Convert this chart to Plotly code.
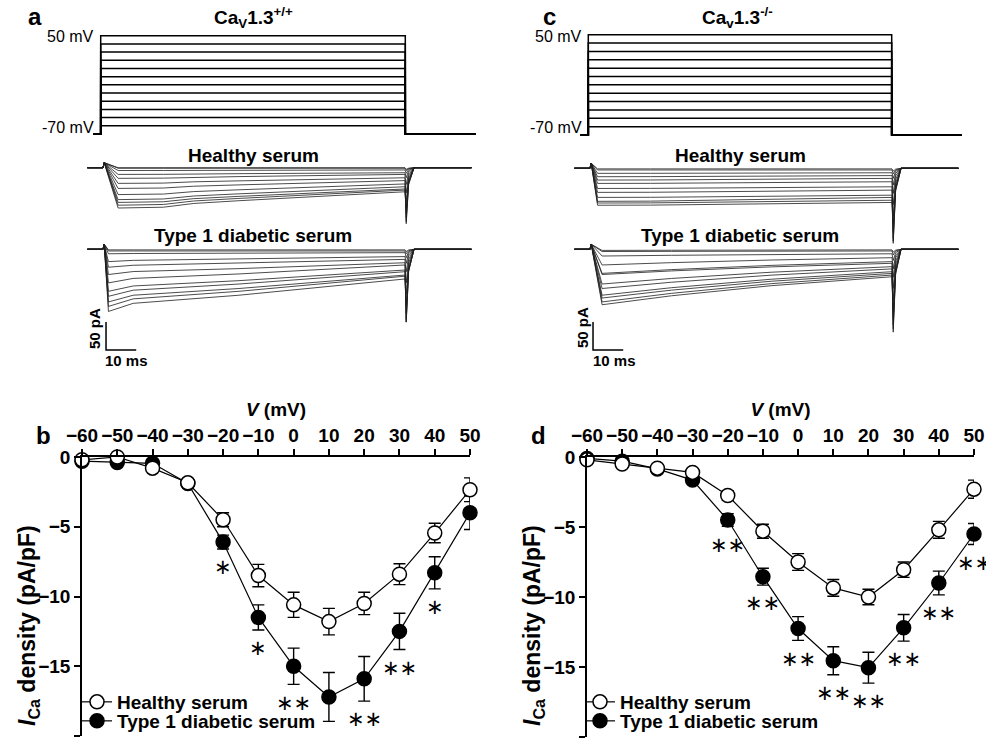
import plotly.graph_objects as go

W, H = 986, 746
FONT = "Liberation Sans, Arial, sans-serif"

# ---------------- data ----------------
voltages_mV = [-60, -50, -40, -30, -20, -10, 0, 10, 20, 30, 40, 50]
iv_ticks = [0, -5, -10, -15, -20]

# IV curves, Cav1.3+/+ (panel b)
wt_healthy_mean = [-0.2, 0.0, -0.8, -1.85, -4.5, -8.5, -10.6, -11.8, -10.5, -8.4, -5.45, -2.35]
wt_healthy_sem = [0.15, 0.15, 0.2, 0.25, 0.5, 0.8, 0.9, 0.95, 0.8, 0.75, 0.7, 0.85]
wt_diabetic_mean = [-0.3, -0.4, -0.45, -1.9, -6.1, -11.5, -15.0, -17.2, -15.9, -12.5, -8.3, -4.0]
wt_diabetic_sem = [0.15, 0.15, 0.2, 0.25, 0.5, 0.9, 1.3, 1.75, 1.6, 1.3, 1.15, 1.2]
wt_stars = ["", "", "", "", "*", "*", "**", "**", "**", "**", "*", ""]

# IV curves, Cav1.3-/- (panel d)
ko_healthy_mean = [-0.2, -0.5, -0.8, -1.1, -2.75, -5.3, -7.5, -9.35, -10.0, -8.05, -5.2, -2.3]
ko_healthy_sem = [0.15, 0.15, 0.2, 0.25, 0.35, 0.5, 0.6, 0.6, 0.55, 0.55, 0.6, 0.65]
ko_diabetic_mean = [-0.1, -0.3, -0.85, -1.65, -4.5, -8.55, -12.25, -14.55, -15.05, -12.2, -9.0, -5.5]
ko_diabetic_sem = [0.15, 0.15, 0.2, 0.25, 0.45, 0.6, 0.85, 1.0, 1.1, 0.95, 0.85, 0.75]
ko_stars = ["", "", "", "", "**", "**", "**", "**", "**", "**", "**", "**"]

# voltage protocol
holding_mV = -70
step_levels_mV = [-60, -50, -40, -30, -20, -10, 0, 10, 20, 30, 40, 50]
protocol_t_ms = [-2.5, 0, 100, 123]

# current traces (pA), one per step voltage
trace_window_ms = [-5.2, 122.0]
onset_artifact_pA = 9
tail_t_ms = [100.4, 101.2, 103.0]
tail_frac = [1.0, 0.3, 0.0]

wt_h_peak = [0, -1, -5, -12, -28, -48, -62, -72, -67, -57, -37, -19]
wt_h_end = [0, -1, -4, -9, -18, -29, -38, -43, -40, -34, -23, -12]
wt_h_tail = [-3, -5, -10, -18, -30, -45, -60, -72, -82, -90, -96, -100]
wt_h_decay_t = [5, 20, 30, 45, 100]
wt_h_decay_frac = [0, 0.05, 0.28, 0.45, 1]

wt_d_peak = [-1, -3, -8, -22, -45, -75, -94, -111, -102, -84, -60, -32]
wt_d_end = [-1, -3, -6, -13, -24, -37, -46, -53, -48, -40, -28, -18]
wt_d_tail = [-4, -8, -15, -25, -40, -60, -80, -100, -115, -125, -130, -130]
wt_d_decay_t = [1.8, 10, 27, 45, 100]
wt_d_decay_frac = [0, 0.25, 0.375, 0.5, 1]

ko_h_peak = [-1, -3, -9, -15, -27, -43, -52, -62, -66, -59, -36, -21]
ko_h_end = [-1, -3, -8, -13, -24, -39, -48, -57, -61, -52, -33, -18]
ko_h_tail = [-5, -10, -18, -30, -45, -65, -85, -100, -115, -125, -130, -134]
ko_h_decay_t = [2.5, 20, 50, 100]
ko_h_decay_frac = [0, 0.05, 0.35, 1]

ko_d_peak = [-2, -4, -12, -28, -43, -62, -82, -94, -99, -87, -70, -45]
ko_d_end = [-1, -3, -8, -15, -22, -31, -40, -46, -49, -43, -35, -25]
ko_d_tail = [-5, -10, -20, -35, -50, -70, -90, -110, -125, -135, -142, -148]
ko_d_decay_t = [4, 27, 60, 100]
ko_d_decay_frac = [0, 0.32, 0.68, 1]

scalebar_ms = 10
scalebar_pA = 50

# ---------------- helpers ----------------
def xlin(p0, p1, pref, vref, s):
    return dict(domain=[p0 / W, p1 / W],
                range=[vref + (p0 - pref) / s, vref + (p1 - pref) / s])


def ylin(ptop, pbot, pref, vref, s):
    return dict(domain=[1 - pbot / H, 1 - ptop / H],
                range=[vref - (pbot - pref) / s, vref - (ptop - pref) / s])


def px(x):
    return x / W


def py(y):
    return 1 - y / H


fig = go.Figure()
hidden = dict(visible=False, showgrid=False, zeroline=False, fixedrange=True, automargin=False)

layout_axes = {}
# panel a
layout_axes["xaxis"] = dict(**xlin(85, 480, 100.7, 0, 3.046), anchor="y", **hidden)
layout_axes["yaxis"] = dict(**ylin(25, 142, 35.7, 50, 0.819), anchor="x", **hidden)
layout_axes["xaxis2"] = dict(**xlin(80, 480, 103, 0, 3.02), anchor="y2", **hidden)
layout_axes["yaxis2"] = dict(**ylin(145, 236, 167.7, 0, 0.56), anchor="x2", **hidden)
layout_axes["xaxis3"] = dict(**xlin(80, 480, 103, 0, 3.02), anchor="y3", **hidden)
layout_axes["yaxis3"] = dict(**ylin(238, 362, 249.3, 0, 0.56), anchor="x3", **hidden)
# panel c
layout_axes["xaxis4"] = dict(**xlin(570, 975, 588.3, 0, 3.034), anchor="y4", **hidden)
layout_axes["yaxis4"] = dict(**ylin(25, 142, 34.7, 50, 0.836), anchor="x4", **hidden)
layout_axes["xaxis5"] = dict(**xlin(565, 975, 590, 0, 3.02), anchor="y5", **hidden)
layout_axes["yaxis5"] = dict(**ylin(145, 250, 168.3, 0, 0.56), anchor="x5", **hidden)
layout_axes["xaxis6"] = dict(**xlin(565, 975, 590, 0, 3.02), anchor="y6", **hidden)
layout_axes["yaxis6"] = dict(**ylin(238, 362, 249.3, 0, 0.56), anchor="x6", **hidden)

# protocol traces
for xa, ya in (("x", "y"), ("x4", "y4")):
    for v in step_levels_mV:
        fig.add_trace(go.Scatter(
            x=[protocol_t_ms[0], protocol_t_ms[1], protocol_t_ms[1], protocol_t_ms[2],
               protocol_t_ms[2], protocol_t_ms[3]],
            y=[holding_mV, holding_mV, v, v, holding_mV, holding_mV],
            mode="lines", line=dict(color="black", width=1.5),
            xaxis=xa, yaxis=ya, showlegend=False, hoverinfo="skip"))


def add_current_traces(xa, ya, peaks, ends, tails, decay_t, decay_frac):
    for pk, en, tl in zip(peaks, ends, tails):
        t = [trace_window_ms[0], 0, 0.4] + list(decay_t) + list(tail_t_ms) + [trace_window_ms[1]]
        y = [0, 0, onset_artifact_pA]
        y += [pk + (en - pk) * f for f in decay_frac]
        y += [tl * f for f in tail_frac]
        y += [0]
        fig.add_trace(go.Scatter(x=t, y=y, mode="lines",
                                 line=dict(color="#1e1e1e", width=0.8),
                                 xaxis=xa, yaxis=ya, showlegend=False, hoverinfo="skip"))


add_current_traces("x2", "y2", wt_h_peak, wt_h_end, wt_h_tail, wt_h_decay_t, wt_h_decay_frac)
add_current_traces("x3", "y3", wt_d_peak, wt_d_end, wt_d_tail, wt_d_decay_t, wt_d_decay_frac)
add_current_traces("x5", "y5", ko_h_peak, ko_h_end, ko_h_tail, ko_h_decay_t, ko_h_decay_frac)
add_current_traces("x6", "y6", ko_d_peak, ko_d_end, ko_d_tail, ko_d_decay_t, ko_d_decay_frac)

# scale bars
for xa, ya in (("x3", "y3"), ("x6", "y6")):
    fig.add_trace(go.Scatter(x=[1, 1, 1 + scalebar_ms],
                             y=[-130, -130 - scalebar_pA, -130 - scalebar_pA],
                             mode="lines", line=dict(color="black", width=1.5),
                             xaxis=xa, yaxis=ya, showlegend=False, hoverinfo="skip"))

# ---------------- IV panels ----------------
tickfont = dict(family=FONT, size=19, color="black", weight="bold")


def iv_axes(p0, p1, ptop, pbot, xa, ya):
    layout_axes["xaxis" + xa] = dict(
        domain=[p0 / W, p1 / W], range=[-60, 50], side="top", anchor="y" + ya,
        showline=True, linecolor="black", linewidth=1.5, ticks="outside", ticklen=6,
        tickwidth=1.5, tickcolor="black", tickvals=voltages_mV, tickfont=tickfont,
        tickangle=0, showgrid=False, zeroline=False, automargin=False,
        title=dict(text="<i>V</i> (mV)", font=tickfont, standoff=3))
    layout_axes["yaxis" + ya] = dict(
        domain=[1 - pbot / H, 1 - ptop / H], range=[-20, 0], anchor="x" + xa,
        showline=True, linecolor="black", linewidth=1.5, ticks="outside", ticklen=6,
        tickwidth=1.5, tickcolor="black", tickvals=iv_ticks, tickfont=tickfont,
        showgrid=False, zeroline=False, automargin=False)


iv_axes(82, 470, 457, 736, "7", "7")
iv_axes(587, 974, 457, 737, "8", "8")


def add_iv(xa, ya, hm, hs, dm, ds, leg_h, leg_d):
    fig.add_trace(go.Scatter(
        x=voltages_mV, y=dm, mode="lines+markers", name="Type 1 diabetic serum",
        line=dict(color="black", width=1.2),
        marker=dict(symbol="circle", size=14, color="black", line=dict(color="black", width=1.5)),
        error_y=dict(type="data", array=ds, color="black", thickness=1.4, width=6),
        xaxis=xa, yaxis=ya, cliponaxis=False, legend=leg_d))
    fig.add_trace(go.Scatter(
        x=voltages_mV, y=hm, mode="lines+markers", name="Healthy serum",
        line=dict(color="black", width=1.2),
        marker=dict(symbol="circle", size=14, color="white", line=dict(color="black", width=1.5)),
        error_y=dict(type="data", array=hs, color="black", thickness=1.4, width=6),
        xaxis=xa, yaxis=ya, cliponaxis=False, legend=leg_h))


add_iv("x7", "y7", wt_healthy_mean, wt_healthy_sem, wt_diabetic_mean, wt_diabetic_sem,
       "legend", "legend2")
add_iv("x8", "y8", ko_healthy_mean, ko_healthy_sem, ko_diabetic_mean, ko_diabetic_sem,
       "legend3", "legend4")

annotations = []


def star_ann(xa, ya, means, sems, stars):
    for v, m, s, st in zip(voltages_mV, means, sems, stars):
        if st:
            annotations.append(dict(
                x=v, y=m - s - 1.3, xref=xa, yref=ya, text=st.replace("*", "∗"),
                showarrow=False, xanchor="center", yanchor="middle",
                font=dict(family="DejaVu Sans", size=21, color="black")))


star_ann("x7", "y7", wt_diabetic_mean, wt_diabetic_sem, wt_stars)
star_ann("x8", "y8", ko_diabetic_mean, ko_diabetic_sem, ko_stars)


def text(x, y, s, size, bold=True, xanchor="center", angle=0, family=FONT):
    annotations.append(dict(
        x=px(x), y=py(y), xref="paper", yref="paper", text=s, showarrow=False,
        xanchor=xanchor, yanchor="middle", textangle=angle,
        font=dict(family=family, size=size, color="black",
                  weight="bold" if bold else "normal")))


# panel letters
text(35, 16, "a", 24)
text(549, 16, "c", 24)
text(43, 435, "b", 24)
text(538, 435, "d", 24)
# protocol titles
text(253, 17, "Ca<sub>V</sub>1.3<sup>+/+</sup>", 19)
text(737, 17, "Ca<sub>v</sub>1.3<sup>-/-</sup>", 19)
text(96, 36, "50 mV", 16, bold=False, xanchor="right")
text(96, 127, "-70 mV", 16, bold=False, xanchor="right")
text(584, 36, "50 mV", 16, bold=False, xanchor="right")
text(584, 127, "-70 mV", 16, bold=False, xanchor="right")
# trace labels
text(253, 155, "Healthy serum", 19)
text(253, 235, "Type 1 diabetic serum", 19)
text(740, 155, "Healthy serum", 19)
text(740, 235, "Type 1 diabetic serum", 19)
# scale bar labels
text(95, 329, "50 pA", 15, angle=-90)
text(127, 360, "10 ms", 15)
text(582, 328, "50 pA", 15, angle=-90)
text(614, 360, "10 ms", 15)
# y titles
text(28, 626, "<i>I</i><sub>Ca</sub> density (pA/pF)", 23, angle=-90)
text(533, 626, "<i>I</i><sub>Ca</sub> density (pA/pF)", 23, angle=-90)


def leg(x, y):
    return dict(x=px(x), y=py(y), xanchor="left", yanchor="middle",
                bgcolor="rgba(0,0,0,0)", borderwidth=0,
                font=dict(family=FONT, size=19, color="black", weight="bold"))


fig.update_layout(
    template="none",
    width=W, height=H, margin=dict(l=0, r=0, t=0, b=0, autoexpand=False),
    paper_bgcolor="white", plot_bgcolor="rgba(0,0,0,0)",
    font=dict(family=FONT, color="black"),
    annotations=annotations,
    legend=leg(77, 702), legend2=leg(77, 721),
    legend3=leg(580, 702), legend4=leg(580, 721),
    **layout_axes)

fig.write_html("out.html",
               config={"displayModeBar": False},
               post_script="document.body.style.margin='0';document.body.style.overflow='hidden';")
